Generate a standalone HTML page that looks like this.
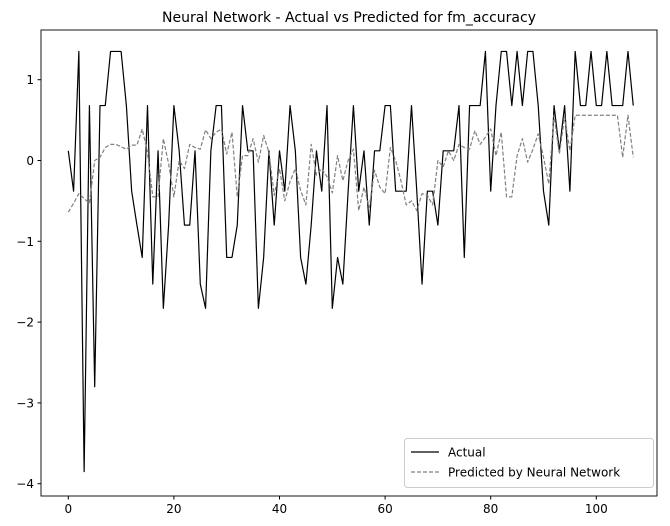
<!DOCTYPE html>
<html><head><meta charset="utf-8"><style>
body{margin:0;background:#fff;}
svg{display:block;font-family:"DejaVu Sans","Liberation Sans",sans-serif;}
</style></head><body>
<svg id="chart" width="670" height="526" viewBox="0 0 670 526">
<text x="349" y="22" text-anchor="middle" font-size="14">Neural Network - Actual vs Predicted for fm_accuracy</text>
<g id="axes"></g>
<g id="series"></g>
<rect x="41" y="30" width="616" height="466" fill="none" stroke="#000" stroke-width="0.9"/>
<g>
<rect x="404.5" y="438.5" width="249" height="49" rx="3" fill="#fff" stroke="#ccc"/>
<line x1="411" y1="452" x2="439" y2="452" stroke="#000" stroke-width="1.2"/>
<text x="448" y="456.5" font-size="12">Actual</text>
<line x1="411" y1="472" x2="439" y2="472" stroke="#808080" stroke-width="1.2" stroke-dasharray="4,2"/>
<text x="448" y="476.5" font-size="12">Predicted by Neural Network</text>
</g>
</svg>
<script>
const actual = [0.12,-0.38,1.35,-3.85,0.68,-2.8,0.68,0.68,1.35,1.35,1.35,0.68,-0.38,-0.8,-1.2,0.68,-1.53,0.12,-1.83,-0.8,0.68,0.12,-0.8,-0.8,0.12,-1.53,-1.83,0.12,0.68,0.68,-1.2,-1.2,-0.8,0.68,0.12,0.12,-1.83,-1.2,0.12,-0.8,0.12,-0.38,0.68,0.12,-1.2,-1.53,-0.8,0.12,-0.38,0.68,-1.83,-1.2,-1.53,-0.38,0.68,-0.38,0.12,-0.8,0.12,0.12,0.68,0.68,-0.38,-0.38,-0.38,0.68,-0.38,-1.53,-0.38,-0.38,-0.8,0.12,0.12,0.12,0.68,-1.2,0.68,0.68,0.68,1.35,-0.38,0.68,1.35,1.35,0.68,1.35,0.68,1.35,1.35,0.68,-0.38,-0.8,0.68,0.12,0.68,-0.38,1.35,0.68,0.68,1.35,0.68,0.68,1.35,0.68,0.68,0.68,1.35,0.68];
const predicted = [-0.64,-0.53,-0.41,-0.47,-0.53,0.0,0.04,0.16,0.2,0.2,0.17,0.14,0.19,0.19,0.39,0.1,-0.45,-0.45,0.27,-0.04,-0.45,0.0,-0.1,0.2,0.16,0.14,0.38,0.27,0.35,0.39,0.08,0.35,-0.45,0.06,0.06,0.27,-0.02,0.31,0.1,-0.43,-0.1,-0.5,-0.26,-0.1,-0.37,-0.55,0.2,-0.18,-0.1,-0.2,-0.4,0.06,-0.25,0.0,0.14,-0.62,-0.33,-0.58,-0.12,-0.33,-0.41,0.16,0.0,-0.25,-0.55,-0.5,-0.62,-0.41,-0.43,-0.55,0.0,-0.08,0.12,0.0,0.2,0.16,0.14,0.37,0.2,0.29,0.39,0.06,0.35,-0.45,-0.45,0.06,0.27,-0.02,0.14,0.33,0.04,-0.29,0.56,0.08,0.54,0.12,0.56,0.56,0.56,0.56,0.56,0.56,0.56,0.56,0.56,0.04,0.56,0.04];
const xTicks = [0,20,40,60,80,100];
const yTicks = [1,0,-1,-2,-3,-4];
const NS='http://www.w3.org/2000/svg';
function xs(i){return 68.3+5.28*i;}
function ys(v){return 160.5-80.8*v;}
const axes=document.getElementById('axes');
xTicks.forEach(t=>{
  const l=document.createElementNS(NS,'line');
  l.setAttribute('x1',xs(t));l.setAttribute('x2',xs(t));l.setAttribute('y1',496);l.setAttribute('y2',499.5);l.setAttribute('stroke','#000');
  
  
  axes.appendChild(l);
  const tx=document.createElementNS(NS,'text');
  tx.setAttribute('x',xs(t));tx.setAttribute('y',513);tx.setAttribute('text-anchor','middle');tx.setAttribute('font-size','12');
  tx.textContent=t;
  
  
  axes.appendChild(tx);
});
yTicks.forEach(t=>{
  const l=document.createElementNS(NS,'line');
  l.setAttribute('x1',37.5);l.setAttribute('x2',41);l.setAttribute('y1',ys(t));l.setAttribute('y2',ys(t));l.setAttribute('stroke','#000');
  
  
  axes.appendChild(l);
  const tx=document.createElementNS(NS,'text');
  tx.setAttribute('x',34);tx.setAttribute('y',ys(t)+4.5);tx.setAttribute('text-anchor','end');tx.setAttribute('font-size','12');
  tx.textContent=t<0?'\u2212'+(-t):t;
  
  
  axes.appendChild(tx);
});
const g=document.getElementById('series');
function line(data,color,dash,name){
  const p=document.createElementNS(NS,'polyline');
  p.setAttribute('points',data.map((v,i)=>xs(i).toFixed(2)+','+ys(v).toFixed(2)).join(' '));
  p.setAttribute('fill','none');p.setAttribute('stroke',color);p.setAttribute('stroke-width','1.2');
  p.setAttribute('stroke-linejoin','round');
  if(dash)p.setAttribute('stroke-dasharray',dash);
  
  
  g.appendChild(p);
}
line(actual,'#000',null,'actual-line');
line(predicted,'#808080','4,2','predicted-line');
</script>
</body></html>
